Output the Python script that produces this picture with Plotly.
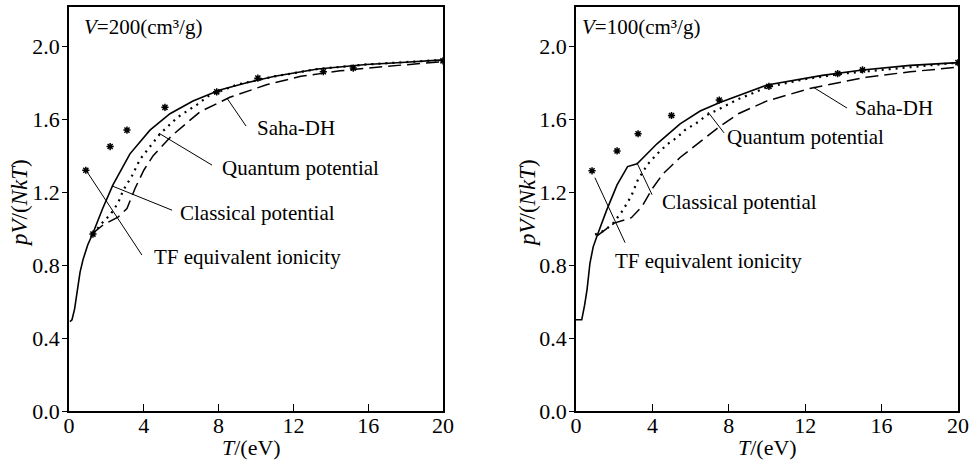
import plotly.graph_objects as go

# ---------------- data: V = 200 cm^3/g (left panel) ----------------
L_classical_T = [0.05, 0.16, 0.3, 0.43, 0.59, 0.75, 1.0, 1.3, 1.8, 2.35, 3.26, 4.33, 5.4, 6.63, 8.07, 9.5, 11.0, 13.3, 15.9, 18.0, 20.0]
L_classical_y = [0.49, 0.50, 0.56, 0.66, 0.76, 0.83, 0.91, 0.98, 1.11, 1.24, 1.41, 1.54, 1.63, 1.70, 1.76, 1.80, 1.835, 1.875, 1.90, 1.912, 1.925]

L_quantum_T = [1.28, 1.76, 2.2, 2.62, 2.9, 3.37, 3.8, 4.4, 4.87, 5.8, 6.85, 7.5, 9.0, 11.0, 13.3, 15.9, 18.0, 20.0]
L_quantum_y = [0.97, 1.03, 1.075, 1.14, 1.21, 1.29, 1.38, 1.46, 1.52, 1.61, 1.68, 1.73, 1.79, 1.835, 1.875, 1.90, 1.912, 1.925]

L_saha_T = [1.28, 1.82, 2.62, 3.1, 3.53, 4.0, 4.5, 5.5, 7.0, 8.6, 10.6, 12.4, 14.5, 17.0, 20.0]
L_saha_y = [0.975, 1.02, 1.063, 1.11, 1.22, 1.32, 1.40, 1.51, 1.64, 1.72, 1.79, 1.835, 1.865, 1.89, 1.915]

L_tf_T = [0.9, 1.28, 2.2, 3.1, 5.13, 7.9, 10.1, 13.6, 15.2, 20.0]
L_tf_y = [1.32, 0.97, 1.45, 1.54, 1.665, 1.75, 1.825, 1.86, 1.88, 1.92]

# ---------------- data: V = 100 cm^3/g (right panel) ----------------
R_classical_T = [0.0, 0.3, 0.45, 0.58, 0.73, 0.9, 1.1, 1.6, 2.15, 2.7, 3.2, 4.24, 5.45, 6.5, 7.5, 10.0, 12.9, 15.0, 17.5, 20.0]
R_classical_y = [0.50, 0.50, 0.58, 0.667, 0.81, 0.90, 0.96, 1.10, 1.24, 1.34, 1.355, 1.465, 1.574, 1.645, 1.69, 1.787, 1.84, 1.87, 1.895, 1.91]

R_quantum_T = [1.0, 1.5, 1.95, 2.45, 2.9, 3.25, 3.77, 4.3, 4.8, 5.3, 5.7, 6.4, 6.85, 7.3, 8.5, 10.0, 12.0, 14.0, 16.0, 18.0, 20.0]
R_quantum_y = [0.967, 0.99, 1.03, 1.10, 1.18, 1.27, 1.355, 1.415, 1.464, 1.50, 1.54, 1.585, 1.623, 1.645, 1.71, 1.775, 1.82, 1.85, 1.87, 1.89, 1.91]

R_saha_T = [1.1, 1.5, 2.0, 2.9, 3.45, 4.0, 4.55, 5.45, 6.65, 7.4, 8.5, 10.0, 12.3, 15.2, 17.5, 20.0]
R_saha_y = [0.96, 0.99, 1.03, 1.06, 1.12, 1.22, 1.30, 1.39, 1.49, 1.55, 1.63, 1.70, 1.77, 1.83, 1.86, 1.885]

R_tf_T = [0.84, 2.15, 3.25, 5.0, 7.5, 10.1, 13.7, 15.0, 20.0]
R_tf_y = [1.317, 1.426, 1.52, 1.62, 1.705, 1.78, 1.85, 1.87, 1.91]

x_ticks = [0, 4, 8, 12, 16, 20]
y_ticks = [0.0, 0.4, 0.8, 1.2, 1.6, 2.0]
y_tick_text = ["0.0", "0.4", "0.8", "1.2", "1.6", "2.0"]

# label text / anchor (data coords) and leader lines (data coords)
L_labels = [
    ("<i>V</i>=200(cm³/g)", 0.7, 2.104),
    ("Saha-DH", 9.95, 1.551),
    ("Quantum potential", 8.07, 1.332),
    ("Classical potential", 5.83, 1.085),
    ("TF equivalent ionicity", 4.44, 0.844),
]
L_leaders = [
    (9.47, 1.562, 8.45, 1.715),
    (7.65, 1.348, 4.81, 1.523),
    (5.51, 1.101, 2.35, 1.232),
    (3.90, 0.855, 0.91, 1.320),
]
R_labels = [
    ("<i>V</i>=100(cm³/g)", 0.2, 2.104),
    ("Saha-DH", 14.5, 1.661),
    ("Quantum potential", 7.8, 1.503),
    ("Classical potential", 4.4, 1.148),
    ("TF equivalent ionicity", 1.94, 0.82),
]
R_leaders = [
    (14.19, 1.661, 12.41, 1.776),
    (7.75, 1.525, 6.91, 1.639),
    (3.98, 1.186, 3.19, 1.361),
    (2.57, 0.923, 0.99, 1.279),
]

FONT = "Liberation Serif"
W, H = 970, 464

fig = go.Figure()

def add_panel(xa, ya, cT, cy, qT, qy, sT, sy, tT, ty):
    fig.add_trace(go.Scatter(x=cT, y=cy, mode="lines", xaxis=xa, yaxis=ya,
                             line=dict(color="black", width=1.6), showlegend=False))
    fig.add_trace(go.Scatter(x=qT, y=qy, mode="lines", xaxis=xa, yaxis=ya,
                             line=dict(color="black", width=2.2, dash="2px,5px"), showlegend=False))
    fig.add_trace(go.Scatter(x=sT, y=sy, mode="lines", xaxis=xa, yaxis=ya,
                             line=dict(color="black", width=1.5, dash="13px,6px"), showlegend=False))
    fig.add_trace(go.Scatter(x=tT, y=ty, mode="markers", xaxis=xa, yaxis=ya,
                             marker=dict(symbol="asterisk-open", size=6, color="black",
                                         line=dict(color="black", width=1.5)), showlegend=False))

add_panel("x", "y", L_classical_T, L_classical_y, L_quantum_T, L_quantum_y,
          L_saha_T, L_saha_y, L_tf_T, L_tf_y)
add_panel("x2", "y2", R_classical_T, R_classical_y, R_quantum_T, R_quantum_y,
          R_saha_T, R_saha_y, R_tf_T, R_tf_y)

annotations = []
shapes = []
for (labels, leaders, xr, yr) in [(L_labels, L_leaders, "x", "y"), (R_labels, R_leaders, "x2", "y2")]:
    for txt, x, y in labels:
        annotations.append(dict(text=txt, x=x, y=y, xref=xr, yref=yr, showarrow=False,
                                xanchor="left", yanchor="middle",
                                font=dict(family=FONT, size=21, color="black")))
    for x0, y0, x1, y1 in leaders:
        shapes.append(dict(type="line", x0=x0, y0=y0, x1=x1, y1=y1, xref=xr, yref=yr,
                           line=dict(color="black", width=1)))

# axis titles
for cx in (19, 527):
    annotations.append(dict(text="<i>pV</i>/(<i>NkT</i>)", x=cx / W, y=1 - 203 / H,
                            xref="paper", yref="paper", showarrow=False, textangle=-90,
                            xanchor="center", yanchor="middle",
                            font=dict(family=FONT, size=23, color="black")))
for cx in (251, 767):
    annotations.append(dict(text="<i>T</i>/(eV)", x=cx / W, y=1 - 447 / H,
                            xref="paper", yref="paper", showarrow=False,
                            xanchor="center", yanchor="middle",
                            font=dict(family=FONT, size=22, color="black")))

xcommon = dict(range=[0, 20], tickvals=x_ticks, ticks="inside", ticklen=7, tickwidth=1.3,
               tickcolor="black", showline=True, linecolor="black", linewidth=1.5, mirror=True,
               showgrid=False, zeroline=False, automargin=False, ticklabelstandoff=-6,
               tickfont=dict(family=FONT, size=22, color="black"))
ycommon = dict(range=[0, 2.215], tickvals=y_ticks, ticktext=y_tick_text, ticks="outside",
               ticklen=5, tickwidth=1.3, tickcolor="black", showline=True, linecolor="black",
               linewidth=1.5, mirror=True, showgrid=False, zeroline=False, automargin=False,
               ticklabelstandoff=-2,
               tickfont=dict(family=FONT, size=22, color="black"))

ydom = [1 - 411 / H, 1 - 7 / H]
fig.update_layout(
    width=W, height=H,
    margin=dict(l=0, r=0, t=0, b=0, autoexpand=False),
    paper_bgcolor="white", plot_bgcolor="white",
    xaxis=dict(domain=[69 / W, 443 / W], anchor="y", **xcommon),
    yaxis=dict(domain=ydom, anchor="x", **ycommon),
    xaxis2=dict(domain=[576 / W, 958 / W], anchor="y2", **xcommon),
    yaxis2=dict(domain=ydom, anchor="x2", **ycommon),
    annotations=annotations,
    shapes=shapes,
)

fig.write_html("out.html", config={"displayModeBar": False},
               post_script="document.body.style.margin='0px';document.body.style.overflow='hidden';")
